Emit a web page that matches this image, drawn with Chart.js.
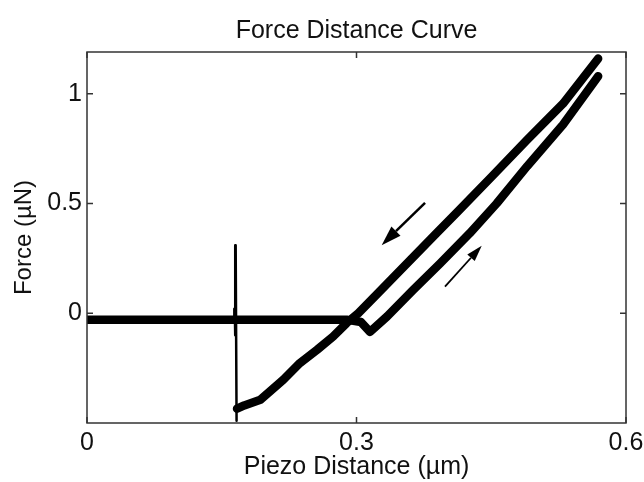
<!DOCTYPE html>
<html>
<head>
<meta charset="utf-8">
<title>Force Distance Curve</title>
<script src="https://cdn.jsdelivr.net/npm/chart.js@4.4.1/dist/chart.umd.min.js"></script>
<style>
  html, body { margin: 0; padding: 0; background: #fff; }
  #wrap { width: 644px; height: 482px; }
</style>
</head>
<body>
<div id="wrap"><canvas id="fdChart" width="644" height="482"></canvas></div>
<script>
// approach (extension): flat baseline, snap-in dip, then the contact slope
const approachX = [0, 0.10, 0.20, 0.29, 0.305, 0.315, 0.334, 0.363, 0.393, 0.426, 0.456, 0.49, 0.53, 0.569];
const approachY = [-0.03, -0.03, -0.03, -0.03, -0.04, -0.085, -0.015, 0.106, 0.227, 0.364, 0.50, 0.67, 0.86, 1.08];

// retraction: back down the contact slope into the adhesion well
const retractX = [0.569, 0.53, 0.49, 0.45, 0.412, 0.389, 0.367, 0.345, 0.326, 0.302, 0.289, 0.274, 0.256, 0.237, 0.2185, 0.193, 0.175, 0.167];
const retractY = [1.16, 0.955, 0.79, 0.62, 0.46, 0.364, 0.272, 0.18, 0.10, 0.0, -0.045, -0.106, -0.167, -0.227, -0.303, -0.394, -0.42, -0.435];

// pull-off jump and ringing back to the baseline
const pullX = [0.1665, 0.1655, 0.165, 0.1645, 0.164];
const pullY = [-0.49, 0.31, -0.10, 0.02, -0.03];

// direction arrows, [tail, tip] in data units
const arrowRetract = [[0.3763, 0.503], [0.328, 0.31]];
const arrowApproach = [[0.3985, 0.121], [0.4394, 0.307]];

const xTicks = [0, 0.3, 0.6];
const yTicks = [0, 0.5, 1];

const FONT = 'Liberation Sans, Arial, Helvetica, sans-serif';
const INK = '#111';

function toPoints(xs, ys) {
  return xs.map((x, i) => ({ x: x, y: ys[i] }));
}

// matlab style box with inward ticks, plus the two arrows
const framePlugin = {
  id: 'frame',
  afterDatasetsDraw(chart) {
    const { ctx, chartArea: a, scales } = chart;
    const xs = scales.x, ys = scales.y;
    ctx.save();
    ctx.strokeStyle = '#333';
    ctx.lineWidth = 1.5;
    ctx.strokeRect(a.left, a.top, a.right - a.left, a.bottom - a.top);
    ctx.beginPath();
    xTicks.forEach(v => {
      const px = xs.getPixelForValue(v);
      ctx.moveTo(px, a.bottom); ctx.lineTo(px, a.bottom - 6);
      ctx.moveTo(px, a.top); ctx.lineTo(px, a.top + 6);
    });
    yTicks.forEach(v => {
      const py = ys.getPixelForValue(v);
      ctx.moveTo(a.left, py); ctx.lineTo(a.left + 6, py);
      ctx.moveTo(a.right, py); ctx.lineTo(a.right - 6, py);
    });
    ctx.stroke();

    function arrow(seg, width, headLen, headW) {
      const x0 = xs.getPixelForValue(seg[0][0]), y0 = ys.getPixelForValue(seg[0][1]);
      const x1 = xs.getPixelForValue(seg[1][0]), y1 = ys.getPixelForValue(seg[1][1]);
      const ang = Math.atan2(y1 - y0, x1 - x0);
      const bx = x1 - headLen * Math.cos(ang), by = y1 - headLen * Math.sin(ang);
      ctx.strokeStyle = '#000';
      ctx.fillStyle = '#000';
      ctx.lineWidth = width;
      ctx.beginPath();
      ctx.moveTo(x0, y0); ctx.lineTo(bx, by);
      ctx.stroke();
      ctx.beginPath();
      ctx.moveTo(x1, y1);
      ctx.lineTo(bx + headW / 2 * Math.sin(ang), by - headW / 2 * Math.cos(ang));
      ctx.lineTo(bx - headW / 2 * Math.sin(ang), by + headW / 2 * Math.cos(ang));
      ctx.closePath();
      ctx.fill();
    }
    arrow(arrowRetract, 2.5, 20, 13);
    arrow(arrowApproach, 1.8, 16, 10);
    ctx.restore();
  }
};

const trace = {
  borderColor: '#000',
  pointRadius: 0,
  tension: 0,
  borderJoinStyle: 'round',
  borderCapStyle: 'round'
};

new Chart(document.getElementById('fdChart'), {
  type: 'line',
  data: {
    datasets: [
      Object.assign({ label: 'Approach', data: toPoints(approachX, approachY), borderWidth: 8.5 }, trace),
      Object.assign({ label: 'Retract', data: toPoints(retractX, retractY), borderWidth: 8.5 }, trace),
      Object.assign({ label: 'Pull-off', data: toPoints(pullX, pullY), borderWidth: 2.5 }, trace)
    ]
  },
  options: {
    responsive: false,
    animation: false,
    layout: { padding: { top: 0, right: 18, bottom: 0, left: 0 } },
    plugins: {
      legend: { display: false },
      tooltip: { enabled: false },
      title: {
        display: true,
        text: 'Force Distance Curve',
        fullSize: false,
        color: INK,
        font: { family: FONT, size: 25, weight: 'normal' },
        padding: { top: 16, bottom: 6 }
      }
    },
    scales: {
      x: {
        type: 'linear',
        min: 0,
        max: 0.6,
        afterBuildTicks: s => { s.ticks = xTicks.map(v => ({ value: v })); },
        afterFit: s => { s.height = 59; s.paddingLeft = 0; s.paddingRight = 0; },
        grid: { display: false, drawTicks: false },
        border: { display: false },
        ticks: {
          padding: 5, color: INK, maxRotation: 0, autoSkip: false,
          font: { family: FONT, size: 25 },
          callback: v => String(v)
        },
        title: {
          display: true, text: 'Piezo Distance (µm)', color: INK,
          font: { family: FONT, size: 25 },
          padding: { top: 0, bottom: 0 }
        }
      },
      y: {
        type: 'linear',
        min: -0.5,
        max: 1.19,
        afterBuildTicks: s => { s.ticks = yTicks.map(v => ({ value: v })); },
        afterFit: s => { s.width = 87; s.paddingTop = 0; s.paddingBottom = 0; },
        grid: { display: false, drawTicks: false },
        border: { display: false },
        ticks: {
          padding: 5, color: INK, autoSkip: false,
          font: { family: FONT, size: 25 },
          callback: v => String(v)
        },
        title: {
          display: true, text: 'Force (µN)', color: INK,
          font: { family: FONT, size: 24 },
          padding: { top: 10, bottom: 0 }
        }
      }
    }
  },
  plugins: [framePlugin]
});
</script>
</body>
</html>
